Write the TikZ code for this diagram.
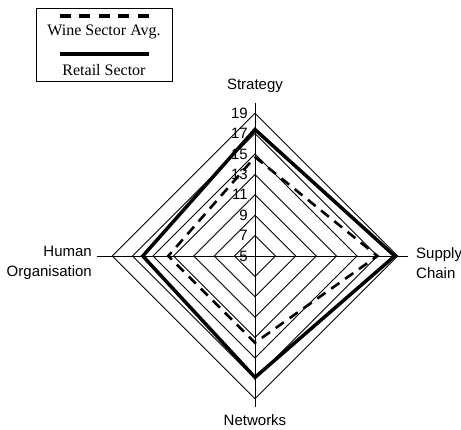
\documentclass[tikz,border=0pt]{standalone}
\usepackage{fontspec}
\setmainfont{Liberation Sans}
\newfontfamily\legendfont{Liberation Serif}
\usetikzlibrary{positioning}

\begin{document}
\begin{tikzpicture}[
x=1pt, y=1pt,
gridline/.style={draw, line width=0.9pt},
retail/.style={draw, line width=3.5pt, line join=miter},
wine/.style={draw, line width=2.6pt, dash pattern=on 10pt off 7pt},
axislabel/.style={font=\fontsize{15}{20}\selectfont, inner sep=0pt},
ticklabel/.style={font=\fontsize{15}{18}\selectfont, inner sep=0pt, anchor=east},
legendtext/.style={font=\legendfont\fontsize{16}{19}\selectfont, inner sep=0pt}
]
\useasboundingbox (-255,-173) rectangle (206,256);
% grid diamonds and tick labels
\foreach \v in {7,9,...,19}
  \draw[gridline] ({(\v-5)*10.2},0) -- (0,{(\v-5)*10.2}) -- ({-(\v-5)*10.2},0) -- (0,{-(\v-5)*10.2}) -- cycle;
\foreach \v in {5,7,...,19}
  \node[ticklabel] (t\v) at (-7,{(\v-5)*10.2}) {\v};
% axes
\coordinate (o) at (0,0);
\coordinate (ntop) at (0,153);
\coordinate (nright) at (153,0);
\coordinate (nbottom) at (0,-151);
\coordinate (nleft) at (-158,0);
\draw[gridline] (ntop) -- (nbottom);
\draw[gridline] (nleft) -- (nright);
% axis labels
\node[axislabel] (strategy) at (0,170) {Strategy};
\node[axislabel, anchor=west, align=left] (supply) at (161,-7) {Supply\\Chain};
\node[axislabel, anchor=east, align=right] (human) at (-163,-7) {Human\\Organisation};
\node[axislabel] (networks) at (0,-164) {Networks};
% series
\draw[retail] (0,{12.4*10.2}) -- ({13.7*10.2},0) -- (0,{-11.9*10.2}) -- ({-11.0*10.2},0) -- cycle;
\draw[wine] (0,{9.7*10.2}) -- ({12.0*10.2},0) -- (0,{-8.5*10.2}) -- ({-8.5*10.2},0) -- cycle;
% legend
\draw[line width=0.9pt] (-219,175) rectangle (-83,248);
\coordinate (wa) at (-195,240);
\coordinate (wb) at (-106,240);
\coordinate (ra) at (-195,202);
\coordinate (rb) at (-106,202);
\draw[line width=4pt, dash pattern=on 11pt off 8.5pt] (wa) -- (wb);
\draw[line width=4pt] (ra) -- (rb);
\node[legendtext] (winetext) at (-151,224) {Wine Sector Avg.};
\node[legendtext] (retailtext) at (-151,186) {Retail Sector};
\end{tikzpicture}
\end{document}
